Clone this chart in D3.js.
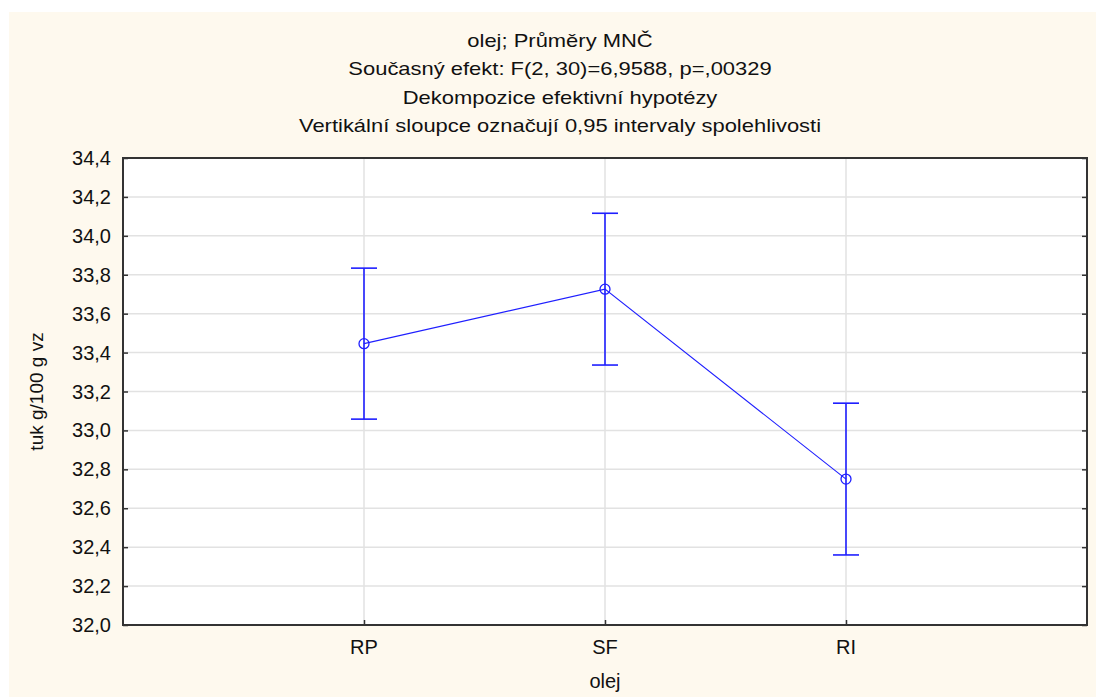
<!DOCTYPE html>
<html>

<head>
    <meta charset="UTF-8">
    <title>olej; Průměry MNČ</title>
    <style>
        body {
            margin: 0;
            background: white;
        }

        svg text {
            font-family: "Liberation Sans", Arial, sans-serif;
            fill: #111;
        }
    </style>
</head>

<body>
    <svg></svg>
    <script src="https://d3js.org/d3.v7.min.js"></script>
    <script>

        // means and 0.95 confidence limits per oil type
        let categories = ["RP", "SF", "RI"]
        let means = [33.446, 33.726, 32.750]
        let lower = [33.058, 33.336, 32.360]
        let upper = [33.834, 34.116, 33.140]
        let yTicks = [32.0, 32.2, 32.4, 32.6, 32.8, 33.0, 33.2, 33.4, 33.6, 33.8, 34.0, 34.2, 34.4]
        let titleLines = [
            "olej; Průměry MNČ",
            "Současný efekt: F(2, 30)=6,9588, p=,00329",
            "Dekompozice efektivní hypotézy",
            "Vertikální sloupce označují 0,95 intervaly spolehlivosti"
        ]

        let width = 1096, height = 697
        let margin = { left: 123, right: 9, top: 158, bottom: 72 }

        let svg = d3.select("svg")
            .attr("width", width)
            .attr("height", height)

        // cream panel behind everything
        svg.append("rect")
            .attr("x", 9)
            .attr("y", 12)
            .attr("width", width - 9)
            .attr("height", height - 12)
            .attr("fill", "#fef9ee")

        let x = d3.scalePoint()
            .domain(categories)
            .range([margin.left, width - margin.right])
            .padding(1)

        let y = d3.scaleLinear()
            .domain([32.0, 34.4])
            .range([height - margin.bottom, margin.top])

        let fmt = d => d3.format(".1f")(d).replace(".", ",")

        // plot area
        svg.append("rect")
            .attr("x", margin.left)
            .attr("y", margin.top)
            .attr("width", width - margin.right - margin.left)
            .attr("height", height - margin.bottom - margin.top)
            .attr("fill", "white")

        // grid lines
        svg.append("g")
            .selectAll("line")
            .data(yTicks.slice(1, -1))
            .enter()
            .append("line")
            .attr("x1", margin.left)
            .attr("x2", width - margin.right)
            .attr("y1", d => y(d))
            .attr("y2", d => y(d))
            .attr("stroke", "#e2e2e2")
            .attr("stroke-width", 1.5)

        svg.append("g")
            .selectAll("line")
            .data(categories)
            .enter()
            .append("line")
            .attr("x1", d => x(d))
            .attr("x2", d => x(d))
            .attr("y1", margin.top)
            .attr("y2", height - margin.bottom)
            .attr("stroke", "#e2e2e2")
            .attr("stroke-width", 1.5)

        // axes with inward ticks
        svg.append("g")
            .attr("transform", "translate(" + margin.left + ",0)")
            .call(d3.axisRight(y).tickValues(yTicks).tickSize(5).tickFormat(""))
        svg.append("g")
            .attr("transform", "translate(" + (width - margin.right) + ",0)")
            .call(d3.axisLeft(y).tickValues(yTicks).tickSize(5).tickFormat(""))
        svg.append("g")
            .attr("transform", "translate(0," + (height - margin.bottom) + ")")
            .call(d3.axisTop(x).tickSize(5).tickFormat(""))

        svg.selectAll(".domain").remove()
        svg.selectAll(".tick line").attr("stroke", "#333").attr("stroke-width", 1.5)

        // frame
        svg.append("rect")
            .attr("x", margin.left)
            .attr("y", margin.top)
            .attr("width", width - margin.right - margin.left)
            .attr("height", height - margin.bottom - margin.top)
            .attr("fill", "none")
            .attr("stroke", "#333")
            .attr("stroke-width", 2)

        // tick labels
        svg.append("g")
            .selectAll("text")
            .data(yTicks)
            .enter()
            .append("text")
            .attr("x", margin.left - 12)
            .attr("y", d => y(d))
            .attr("dy", "0.35em")
            .attr("text-anchor", "end")
            .attr("font-size", 20)
            .text(fmt)

        svg.append("g")
            .selectAll("text")
            .data(categories)
            .enter()
            .append("text")
            .attr("x", d => x(d))
            .attr("y", height - margin.bottom + 29)
            .attr("text-anchor", "middle")
            .attr("font-size", 20)
            .text(d => d)

        // axis titles
        svg.append("text")
            .attr("x", (margin.left + width - margin.right) / 2)
            .attr("y", 688)
            .attr("text-anchor", "middle")
            .attr("font-size", 20)
            .text("olej")

        svg.append("text")
            .attr("transform", "translate(43," + y(33.2) + ") rotate(-90)")
            .attr("text-anchor", "middle")
            .attr("font-size", 19)
            .text("tuk g/100 g vz")

        // title block, drawn a little wide
        svg.append("g")
            .attr("transform", "translate(560,0) scale(1.22,1)")
            .selectAll("text")
            .data(titleLines)
            .enter()
            .append("text")
            .attr("x", 0)
            .attr("y", (d, i) => 47 + i * 28.5)
            .attr("text-anchor", "middle")
            .attr("font-size", 18)
            .text(d => d)

        // error bars
        let blue = "#1f1fff"
        let bars = svg.append("g")
            .selectAll("g")
            .data(categories)
            .enter()
            .append("g")
            .attr("stroke", blue)
            .attr("stroke-width", 1.6)

        bars.append("line")
            .attr("x1", d => x(d))
            .attr("x2", d => x(d))
            .attr("y1", (d, i) => y(upper[i]))
            .attr("y2", (d, i) => y(lower[i]))
        bars.append("line")
            .attr("x1", d => x(d) - 13)
            .attr("x2", d => x(d) + 13)
            .attr("y1", (d, i) => y(upper[i]))
            .attr("y2", (d, i) => y(upper[i]))
        bars.append("line")
            .attr("x1", d => x(d) - 13)
            .attr("x2", d => x(d) + 13)
            .attr("y1", (d, i) => y(lower[i]))
            .attr("y2", (d, i) => y(lower[i]))

        // line through the means
        let line = d3.line()
            .x((d, i) => x(categories[i]))
            .y(d => y(d))

        svg.append("path")
            .datum(means)
            .attr("d", line)
            .attr("fill", "none")
            .attr("stroke", blue)
            .attr("stroke-width", 1.1)

        svg.append("g")
            .selectAll("circle")
            .data(means)
            .enter()
            .append("circle")
            .attr("cx", (d, i) => x(categories[i]))
            .attr("cy", d => y(d))
            .attr("r", 5)
            .attr("fill", "none")
            .attr("stroke", blue)
            .attr("stroke-width", 1.3)

    </script>

</body>

</html>
